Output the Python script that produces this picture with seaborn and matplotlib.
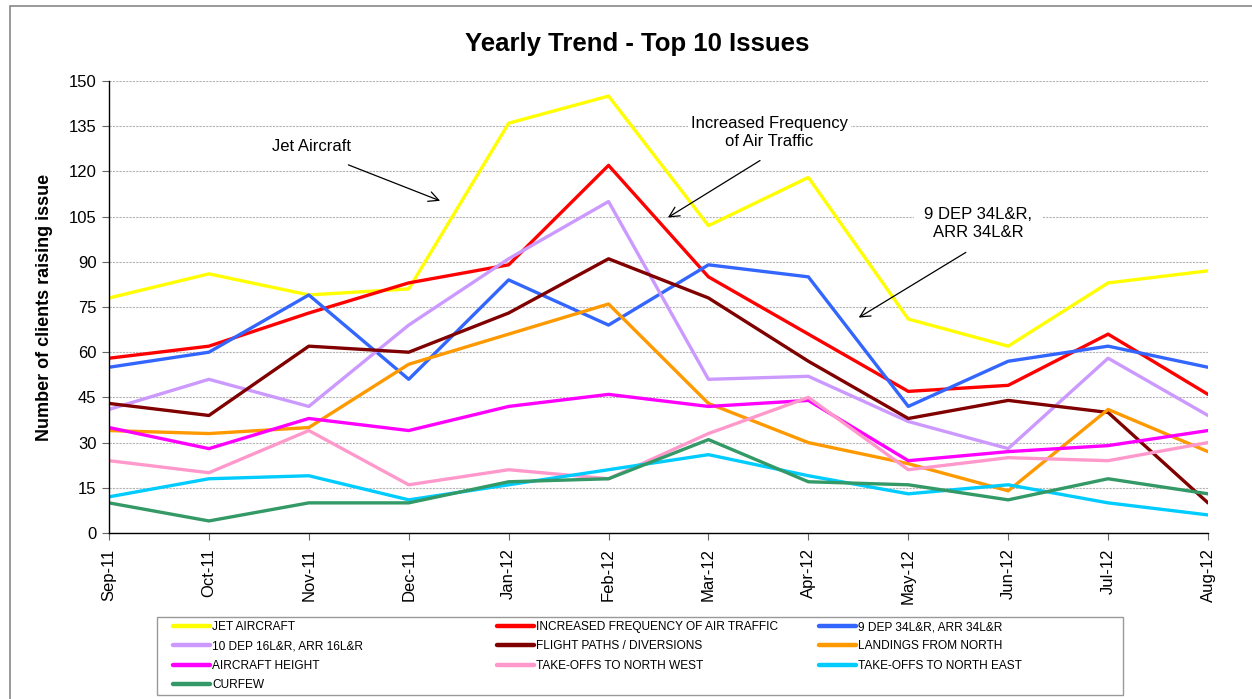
import matplotlib
matplotlib.use("Agg")
import matplotlib.pyplot as plt
import seaborn as sns
import pandas as pd
from matplotlib.patches import Rectangle
from matplotlib.lines import Line2D

months = ["Sep-11", "Oct-11", "Nov-11", "Dec-11", "Jan-12", "Feb-12",
          "Mar-12", "Apr-12", "May-12", "Jun-12", "Jul-12", "Aug-12"]

jet_aircraft = [78, 86, 79, 81, 136, 145, 102, 118, 71, 62, 83, 87]
increased_freq = [58, 62, 73, 83, 89, 122, 85, 66, 47, 49, 66, 46]
dep9_34 = [55, 60, 79, 51, 84, 69, 89, 85, 42, 57, 62, 55]
dep10_16 = [41, 51, 42, 69, 91, 110, 51, 52, 37, 28, 58, 39]
flight_paths = [43, 39, 62, 60, 73, 91, 78, 57, 38, 44, 40, 10]
landings_north = [34, 33, 35, 56, 66, 76, 43, 30, 23, 14, 41, 27]
aircraft_height = [35, 28, 38, 34, 42, 46, 42, 44, 24, 27, 29, 34]
takeoffs_nw = [24, 20, 34, 16, 21, 18, 33, 45, 21, 25, 24, 30]
takeoffs_ne = [12, 18, 19, 11, 16, 21, 26, 19, 13, 16, 10, 6]
curfew = [10, 4, 10, 10, 17, 18, 31, 17, 16, 11, 18, 13]

series_names = ["JET AIRCRAFT", "INCREASED FREQUENCY OF AIR TRAFFIC", "9 DEP 34L&R, ARR 34L&R",
                "10 DEP 16L&R, ARR 16L&R", "FLIGHT PATHS / DIVERSIONS", "LANDINGS FROM NORTH",
                "AIRCRAFT HEIGHT", "TAKE-OFFS TO NORTH WEST", "TAKE-OFFS TO NORTH EAST", "CURFEW"]
series_values = [jet_aircraft, increased_freq, dep9_34, dep10_16, flight_paths,
                 landings_north, aircraft_height, takeoffs_nw, takeoffs_ne, curfew]
series_colors = ["#FFFF00", "#FF0000", "#3366FF", "#CC99FF", "#800000",
                 "#FF9900", "#FF00FF", "#FF99CC", "#00CCFF", "#339966"]

yticks = list(range(0, 151, 15))

sns.set_style("white")
plt.rcParams['font.family'] = ['Liberation Sans', 'DejaVu Sans']
plt.rcParams['text.color'] = 'black'
plt.rcParams['axes.labelcolor'] = 'black'

W, H = 1252, 699
fig = plt.figure(figsize=(W / 100, H / 100), dpi=100)
ax = fig.add_axes([109 / W, 1 - 533 / H, (1208 - 109) / W, (533 - 81) / H])

handles = {}
for name, vals, col in zip(series_names, series_values, series_colors):
    df = pd.DataFrame({"Month": months, "Count": vals})
    sns.lineplot(data=df, x="Month", y="Count", color=col, lw=2.4, ax=ax,
                 sort=False, legend=False)
    handles[name] = Line2D([0], [0], color=col, lw=3.2)

ax.set_xlim(0, len(months) - 1)
ax.set_ylim(0, 150)
ax.set_yticks(yticks)
ax.set_xticks(range(len(months)))
ax.set_xticklabels(months, rotation=90)
ax.tick_params(axis='both', labelsize=12, direction='out', length=5, width=0.8,
               color='#666666', labelcolor='black', pad=5)
ax.tick_params(axis='y', left=True, pad=4)
ax.tick_params(axis='x', bottom=True, pad=6)
ax.set_xlabel("")
ax.set_ylabel("Number of clients raising issue", fontsize=13, fontweight='bold')
ax.yaxis.set_label_coords((53 - 109) / (1208 - 109), 0.5)
ax.yaxis.grid(True, color='#b4b4b4', lw=0.8, ls=(0, (2, 1)))
ax.set_axisbelow(True)
for s in ["top", "right"]:
    ax.spines[s].set_visible(False)
for s in ["left", "bottom"]:
    ax.spines[s].set_color("black")
    ax.spines[s].set_linewidth(1.0)

fig.text(637 / W, 1 - 44 / H, "Yearly Trend - Top 10 Issues", ha='center', va='center',
         fontsize=18.5, fontweight='bold')

# annotations
arrowprops = dict(arrowstyle='->', color='black', lw=0.9, mutation_scale=18)
box = dict(boxstyle='square,pad=0.3', fc='white', ec='none')
ax.text(2.03, 128.1, "Jet Aircraft", ha='center', va='center', fontsize=12, zorder=10, bbox=box)
ax.annotate("", xy=(3.34, 109.9), xytext=(2.37, 122.5), arrowprops=arrowprops, zorder=10)
ax.text(6.61, 132.8, "Increased Frequency\nof Air Traffic", ha='center', va='center',
        fontsize=12, zorder=10, linespacing=1.25,
        bbox=dict(boxstyle='square,pad=0.2', fc='white', ec='none'))
ax.annotate("", xy=(5.57, 104.2), xytext=(6.54, 124.1), arrowprops=arrowprops, zorder=10)
ax.text(8.7, 102.6, "9 DEP 34L&R,\nARR 34L&R", ha='center', va='center',
        fontsize=12, zorder=10, linespacing=1.25,
        bbox=dict(boxstyle='square,pad=0.6', fc='white', ec='none'))
ax.annotate("", xy=(7.48, 71.0), xytext=(8.6, 93.6), arrowprops=arrowprops, zorder=10)

# legend: three columns placed individually, with a common frame
cols = [
    (173, ["JET AIRCRAFT", "10 DEP 16L&R, ARR 16L&R", "AIRCRAFT HEIGHT", "CURFEW"]),
    (497, ["INCREASED FREQUENCY OF AIR TRAFFIC", "FLIGHT PATHS / DIVERSIONS", "TAKE-OFFS TO NORTH WEST"]),
    (819, ["9 DEP 34L&R, ARR 34L&R", "LANDINGS FROM NORTH", "TAKE-OFFS TO NORTH EAST"]),
]
for xpx, names in cols:
    leg = fig.legend([handles[n] for n in names], names, loc='upper left',
                     bbox_to_anchor=(xpx / W, 1 - 621 / H), frameon=False,
                     fontsize=8.6, handlelength=3.1, handletextpad=0.2,
                     labelspacing=0.62, borderpad=0, borderaxespad=0)

fig.patches.append(Rectangle((157 / W, 1 - 695 / H), (1123 - 157) / W, (695 - 617) / H,
                             transform=fig.transFigure, fill=False, ec='#999999', lw=1))
# outer chart border (left and top edges visible)
fig.patches.append(Rectangle((10 / W, -0.1), 1.2, 1.1 - 6 / H,
                             transform=fig.transFigure, fill=False, ec='#888888', lw=1.2))

fig.savefig("out.png", dpi=100)
